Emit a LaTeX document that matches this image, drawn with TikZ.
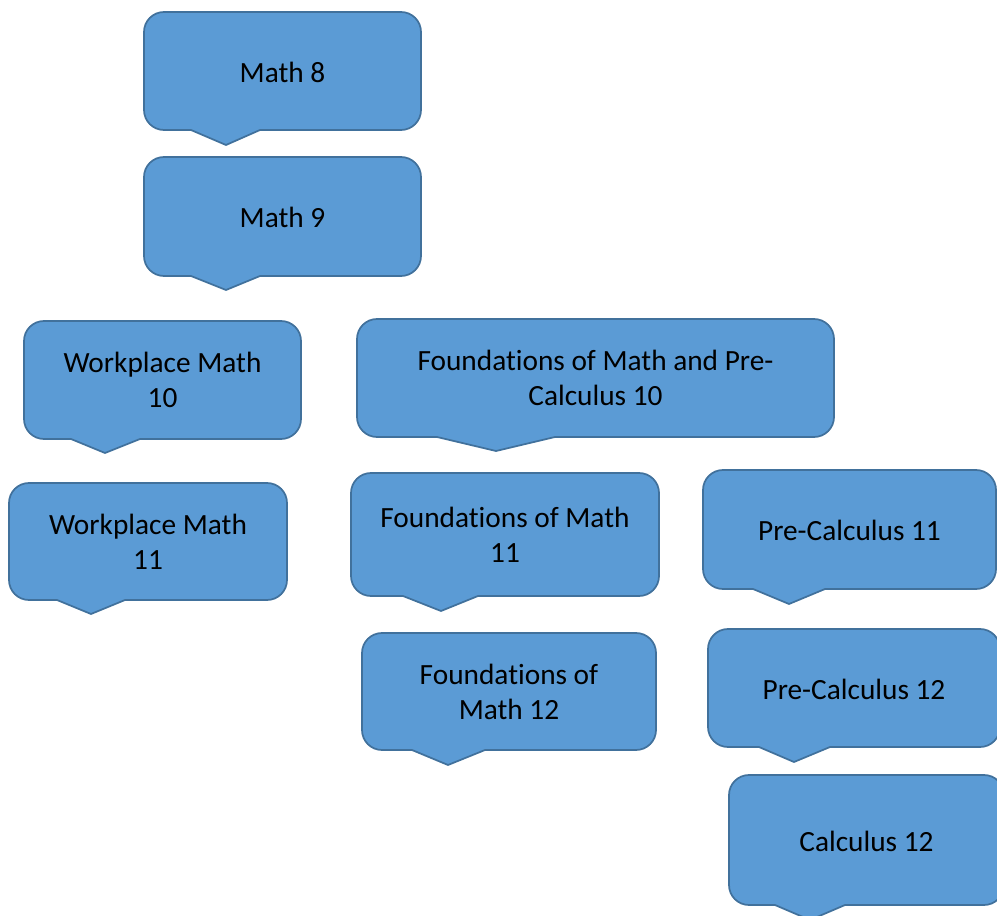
\documentclass[tikz,border=0pt]{standalone}
\usepackage{fontspec}
\setmainfont{Carlito}[Ligatures=NoCommon]
\definecolor{boxfill}{HTML}{5B9BD5}
\definecolor{boxline}{HTML}{41719C}
\tikzset{
  callshape/.style={fill=boxfill,draw=boxline,line width=1.3pt,line join=round},
  label/.style={text=black,align=center,inner sep=0pt,font=\fontsize{22}{26.25}\selectfont}
}
% #1 x1, #2 y1 (top), #3 x2, #4 y2 (bottom), #5 pointer left, #6 tip x, #7 pointer right, #8 tip y
\newcommand\callbox[8]{%
  \path[callshape] ({#1+20},#2) -- ({#3-20},#2) arc[start angle=90,end angle=0,radius=15pt]
    -- (#3,{#4-20}) arc[start angle=0,end angle=-90,radius=15pt]
    -- (#7,#4) -- (#6,#8) -- (#5,#4) -- ({#1+20},#4)
    arc[start angle=-90,end angle=-180,radius=15pt]
    -- (#1,{#2+20}) arc[start angle=180,end angle=90,radius=15pt] -- cycle;}
\begin{document}
\begin{tikzpicture}[x=0.75pt,y=-0.75pt]
\useasboundingbox (0,0) rectangle (997,916);
\clip (0,0) rectangle (997,916);
\callbox{144}{12}{421}{130}{191}{226}{260}{145}
\node[label] (m8) at (282.5,72) {Math 8};
\callbox{144}{157}{421}{276}{191}{226}{260}{290}
\node[label] (m9) at (282.5,217.5) {Math 9};
\callbox{24}{321}{301}{439}{71}{105}{140}{453}
\node[label] (wm10) at (162.5,380) {Workplace Math\\10};
\callbox{357}{319}{834}{437}{437}{496}{555}{451}
\node[label] (fmpc10) at (595.5,378) {Foundations of Math and Pre-\\Calculus 10};
\callbox{9}{483}{287}{600}{57}{91}{125}{614}
\node[label] (wm11) at (148,541.5) {Workplace Math\\11};
\callbox{351}{473}{659}{596}{403}{441}{478}{611}
\node[label] (fm11) at (505,535) {Foundations of Math\\11};
\callbox{703}{470}{996}{589}{753}{789}{825}{604}
\node[label] (pc11) at (849.5,530) {Pre-Calculus 11};
\callbox{362}{633}{656}{750}{412}{448}{485}{765}
\node[label] (fm12) at (509,692) {Foundations of\\Math 12};
\callbox{708}{629}{1000}{747}{759}{794}{830}{762}
\node[label] (pc12) at (854,689) {Pre-Calculus 12};
\callbox{729}{775}{1004}{905}{775}{810}{845}{920}
\node[label] (c12) at (866.5,841) {Calculus 12};
\end{tikzpicture}
\end{document}
